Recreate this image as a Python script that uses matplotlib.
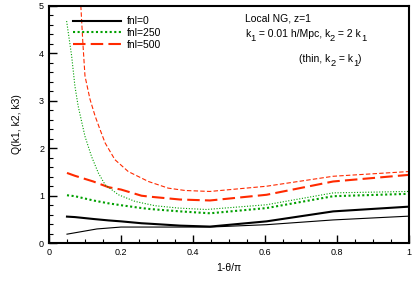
import matplotlib
matplotlib.use("Agg")
import matplotlib.pyplot as plt
from matplotlib.ticker import MultipleLocator
from matplotlib.transforms import offset_copy

plt.rcParams["font.family"] = ["Liberation Sans", "DejaVu Sans"]

x_thick = [0.05, 0.072, 0.123, 0.165, 0.2, 0.257, 0.28, 0.364, 0.447, 0.604, 0.789, 1.0]
q0_thick = [0.56, 0.55, 0.51, 0.48, 0.46, 0.42, 0.41, 0.37, 0.35, 0.46, 0.67, 0.77]
q250_thick = [1.01, 0.99, 0.90, 0.84, 0.80, 0.74, 0.72, 0.67, 0.63, 0.74, 0.99, 1.04]
q500_thick = [1.48, 1.42, 1.30, 1.18, 1.13, 1.00, 0.98, 0.92, 0.90, 1.02, 1.30, 1.44]

x0_thin = [0.05, 0.133, 0.2, 0.28, 0.447, 0.604, 0.789, 1.0]
q0_thin = [0.19, 0.30, 0.34, 0.34, 0.34, 0.39, 0.49, 0.57]

x250_thin = [0.049, 0.063, 0.072, 0.081, 0.091, 0.1, 0.118, 0.137, 0.156, 0.193,
             0.239, 0.294, 0.359, 0.437, 0.604, 0.789, 1.0]
q250_thin = [4.68, 3.94, 3.31, 2.89, 2.55, 2.25, 1.83, 1.48, 1.23, 1.02,
             0.88, 0.79, 0.74, 0.71, 0.81, 1.06, 1.09]

x500_thin = [0.087, 0.094, 0.1, 0.114, 0.128, 0.140, 0.156, 0.183, 0.220, 0.276,
             0.331, 0.378, 0.447, 0.604, 0.789, 1.0]
q500_thin = [5.2, 4.23, 3.52, 3.03, 2.68, 2.43, 2.11, 1.76, 1.51, 1.30,
             1.16, 1.11, 1.09, 1.2, 1.41, 1.51]

fig = plt.figure(figsize=(4.15, 2.93), dpi=100)
ax = fig.add_axes([0.118, 0.17, 0.868, 0.81])

green = "#00a000"
red = "#ff2a00"

ax.plot(x_thick, q0_thick, color="black", lw=1.5, label="fnl=0")
ax.plot(x_thick, q250_thick, color=green, lw=1.5, ls=(0, (1, 1.2)), label="fnl=250")
ax.plot(x_thick, q500_thick, color=red, lw=1.5, ls=(0, (6, 2.5)), label="fnl=500")

ax.plot(x0_thin, q0_thin, color="black", lw=0.8)
ax.plot(x250_thin, q250_thin, color=green, lw=0.8, ls=(0, (1, 1.5)))
ax.plot(x500_thin, q500_thin, color=red, lw=0.8, ls=(0, (4, 2)))

ax.set_xlim(0, 1)
ax.set_ylim(0, 5)
ax.xaxis.set_major_locator(MultipleLocator(0.2))
ax.xaxis.set_minor_locator(MultipleLocator(0.05))
ax.yaxis.set_major_locator(MultipleLocator(1))
ax.yaxis.set_minor_locator(MultipleLocator(0.2))
ax.xaxis.set_major_formatter(plt.FuncFormatter(lambda v, p: f"{v:g}"))
ax.tick_params(which="both", direction="in", top=False, right=False, labelsize=6.5)
ax.tick_params(which="major", length=6, width=1)
ax.tick_params(which="minor", length=3, width=0.8)
for s in ax.spines.values():
    s.set_linewidth(1.5)

ax.set_xlabel("1-θ/π", fontsize=7.5, labelpad=4)
ax.set_ylabel("Q(k1, k2, k3)", fontsize=7.5, labelpad=12)

ax.legend(loc="upper left", bbox_to_anchor=(0.04, 0.995), frameon=False, fontsize=7.5,
          handlelength=4.6, labelspacing=0.15, handletextpad=0.6)

renderer = fig.canvas.get_renderer()


def pieced_text(x, y, pieces, size=7.5):
    # subscripts nearly full size and dropped, like the original figure
    dx = 0.0
    for s, sub in pieces:
        tr = offset_copy(ax.transAxes, fig=fig, x=dx, y=-3.0 if sub else 0.0, units="points")
        t = ax.text(x, y, s, transform=tr, fontsize=size * 0.9 if sub else size,
                    va="baseline")
        dx += t.get_window_extent(renderer).width * 72.0 / fig.dpi


ax.text(0.545, 0.935, "Local NG, z=1", transform=ax.transAxes, fontsize=7.5, va="baseline")
pieced_text(0.545, 0.87, [("k", False), ("1", True), (" = 0.01 h/Mpc, k", False),
                          ("2", True), (" = 2 k", False), ("1", True)])
pieced_text(0.695, 0.765, [("(thin, k", False), ("2", True), (" = k", False),
                           ("1", True), (")", False)])

fig.savefig("out.png", dpi=100)
